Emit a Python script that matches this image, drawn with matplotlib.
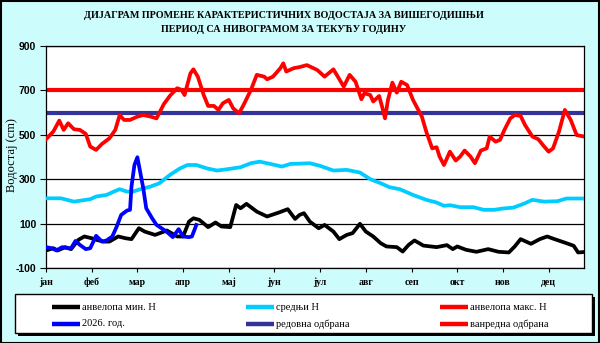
import matplotlib
matplotlib.use('Agg')
import matplotlib.pyplot as plt
from matplotlib.lines import Line2D
from matplotlib.patches import Rectangle

# values (day of year, water level in cm)
min_days = [0, 5, 8, 13, 17, 22, 26, 31, 34, 39, 43, 49, 54, 58, 63, 67, 74, 82, 89, 93,
            97, 100, 104, 110, 115, 119, 125, 129, 132, 136, 143, 150, 158, 164, 169, 172,
            175, 179, 185, 189, 195, 199, 204, 208, 213, 217, 222, 227, 231, 238, 242, 246,
            250, 256, 265, 272, 276, 279, 285, 292, 300, 307, 314, 318, 322, 329, 335, 340,
            345, 353, 358, 361, 365]
min_vals = [-21, -11, -21, -6, -15, 27, 42, 34, 27, 19, 19, 42, 34, 30, 79, 64, 49, 69, 42, 42,
            109, 124, 117, 84, 105, 87, 84, 184, 169, 189, 154, 132, 150, 165, 121, 139,
            147, 109, 79, 94, 64, 30, 49, 57, 99, 64, 42, 12, -3, -6, -26, 4,
            24, 1, -6, 3, -15, -3, -18, -27, -15, -27, -30, -3, 30, 9, 30, 42,
            30, 12, 0, -30, -28]

mean_days = [0, 10, 19, 30, 34, 41, 46, 50, 55, 59, 64, 71, 77, 84, 91, 96, 102, 109, 116,
             123, 132, 139, 145, 152, 160, 166, 172, 179, 186, 195, 204, 213, 220, 227, 233,
             240, 249, 258, 265, 270, 274, 281, 290, 297, 304, 310, 317, 324, 330, 338, 347,
             353, 365]
mean_vals = [214, 214, 199, 210, 222, 229, 244, 255, 244, 244, 255, 267, 282, 319, 349, 364,
             364, 349, 339, 345, 354, 372, 379, 369, 357, 369, 370, 372, 360, 339, 342, 330,
             300, 282, 264, 255, 229, 207, 195, 180, 183, 174, 174, 162, 162, 168, 172, 189,
             207, 199, 201, 213, 213]

max_days = [0, 5, 9, 12, 15, 19, 23, 27, 30, 34, 38, 43, 47, 50, 53, 57, 62, 66, 71, 75,
            80, 84, 89, 92, 94, 98, 100, 103, 107, 110, 114, 117, 120, 124, 127, 131, 134,
            139, 143, 148, 150, 154, 159, 161, 163, 168, 172, 177, 184, 189, 195, 202, 206,
            210, 214, 216, 220, 222, 226, 228, 230, 232, 235, 238, 241, 245, 249, 255, 258,
            262, 265, 267, 270, 274, 278, 281, 284, 288, 291, 295, 299, 301, 305, 308, 311,
            315, 318, 322, 325, 330, 334, 338, 341, 344, 348, 352, 356, 360, 365]
max_vals = [480, 515, 564, 522, 552, 525, 522, 504, 447, 432, 459, 484, 522, 589, 567, 567,
            582, 589, 582, 574, 639, 675, 710, 702, 679, 777, 795, 762, 679, 630, 630, 612,
            642, 657, 619, 597, 634, 702, 770, 762, 750, 762, 800, 822, 785, 800, 805, 814,
            792, 762, 795, 717, 770, 739, 660, 687, 679, 650, 675, 627, 574, 657, 735, 690,
            739, 724, 657, 582, 514, 439, 444, 402, 364, 424, 384, 402, 429, 402, 372, 429,
            439, 492, 469, 477, 522, 574, 589, 585, 544, 492, 480, 447, 424, 439, 514, 612,
            567, 499, 492]

cur_days = [0, 4, 7, 11, 15, 17, 20, 23, 27, 30, 34, 38, 41, 45, 48, 51, 55, 57, 58, 60,
            62, 63, 66, 68, 72, 75, 80, 83, 86, 90, 93, 97, 99, 102]
cur_vals = [-6, -11, -21, -6, -11, -11, 22, 4, -15, -11, 45, 19, 24, 42, 87, 139, 159, 162,
            267, 364, 399, 364, 259, 169, 124, 94, 72, 57, 39, 75, 42, 39, 42, 94]

regular_defense = 600
emergency_defense = 700

months = ['јан', 'феб', 'мар', 'апр', 'мај', 'јун', 'јул', 'авг', 'сеп', 'окт', 'нов', 'дец']
month_ticks = [31 * i for i in range(12)]
y_ticks = [-100, 100, 300, 500, 700, 900]

labels = ['анвелопа мин. Н', 'средњи Н', 'анвелопа макс. Н',
          '2026. год.', 'редовна одбрана', 'ванредна одбрана']
colors = ['black', '#00ccff', '#ff0000', '#0000ff', '#333399', '#ff0000']

W, H = 600, 343
fig = plt.figure(figsize=(W / 100, H / 100), dpi=100, facecolor='#cdfcfc')

ax = fig.add_axes([46 / W, 75 / H, 538 / W, 222 / H])
ax.set_facecolor('white')
ax.set_xlim(0, 365)
ax.set_ylim(-100, 900)
for y in y_ticks:
    ax.axhline(y, color='black', lw=0.9, zorder=1)

lw = 2.7
ax.plot(min_days, min_vals, color=colors[0], lw=lw, zorder=3, solid_joinstyle='round')
ax.plot(mean_days, mean_vals, color=colors[1], lw=lw, zorder=3, solid_joinstyle='round')
ax.axhline(emergency_defense, color=colors[5], lw=3, zorder=2)
ax.axhline(regular_defense, color=colors[4], lw=3, zorder=2)
ax.plot(max_days, max_vals, color=colors[2], lw=lw, zorder=3, solid_joinstyle='round')
ax.plot(cur_days, cur_vals, color=colors[3], lw=lw, zorder=4, solid_joinstyle='round')

ax.set_xticks(month_ticks)
ax.set_xticklabels(months, fontfamily='Liberation Serif', fontweight='bold', fontsize=7)
ax.set_yticks(y_ticks)
ax.set_yticklabels([str(v) for v in y_ticks], fontfamily='Liberation Sans',
                   fontweight='bold', fontsize=7.5)
ax.tick_params(axis='x', length=3, width=0.8, pad=4)
ax.tick_params(axis='y', length=4, width=0.8, pad=3)
for s in ax.spines.values():
    s.set_color('black')
    s.set_linewidth(0.9)

fig.text(12 / W, 1 - 155 / H, 'Водостај (cm)', rotation=90, ha='center', va='center',
         fontfamily='Liberation Serif', fontsize=9)

fig.text(284 / W, 1 - 15 / H, 'ДИЈАГРАМ ПРОМЕНЕ КАРАКТЕРИСТИЧНИХ ВОДОСТАЈА ЗА ВИШЕГОДИШЊИ',
         ha='center', va='center', fontfamily='Liberation Serif', fontweight='bold', fontsize=7.3)
fig.text(284 / W, 1 - 29 / H, 'ПЕРИОД СА НИВОГРАМОМ ЗА ТЕКУЋУ ГОДИНУ',
         ha='center', va='center', fontfamily='Liberation Serif', fontweight='bold', fontsize=7.3)

# legend box with shadow
lx0, ly0, lx1, ly1 = 15, 294, 592, 333
fig.patches.append(Rectangle(((lx0 + 3) / W, 1 - (ly1 + 3) / H), (lx1 - lx0) / W, (ly1 - ly0) / H,
                             transform=fig.transFigure, facecolor='black', edgecolor='none'))
fig.patches.append(Rectangle((lx0 / W, 1 - ly1 / H), (lx1 - lx0) / W, (ly1 - ly0) / H,
                             transform=fig.transFigure, facecolor='white', edgecolor='black', lw=1))
col_x = [52, 246, 440]
row_y = [307, 324]
for i in range(6):
    cx = col_x[i % 3]
    ry = row_y[i // 3]
    fig.lines.append(Line2D([cx / W, (cx + 28) / W], [1 - ry / H, 1 - ry / H],
                            transform=fig.transFigure, color=colors[i], lw=3.2,
                            solid_capstyle='butt'))
    fig.text((cx + 30) / W, 1 - ry / H, labels[i], ha='left', va='center',
             fontfamily='Liberation Serif', fontsize=7.5)

# outer frame
fig.patches.append(Rectangle((0.5 / W, 0.5 / H), (W - 1.5) / W, (H - 1.5) / H,
                             transform=fig.transFigure, facecolor='none', edgecolor='black', lw=1.5))

fig.savefig('out.png', dpi=100, facecolor=fig.get_facecolor())
